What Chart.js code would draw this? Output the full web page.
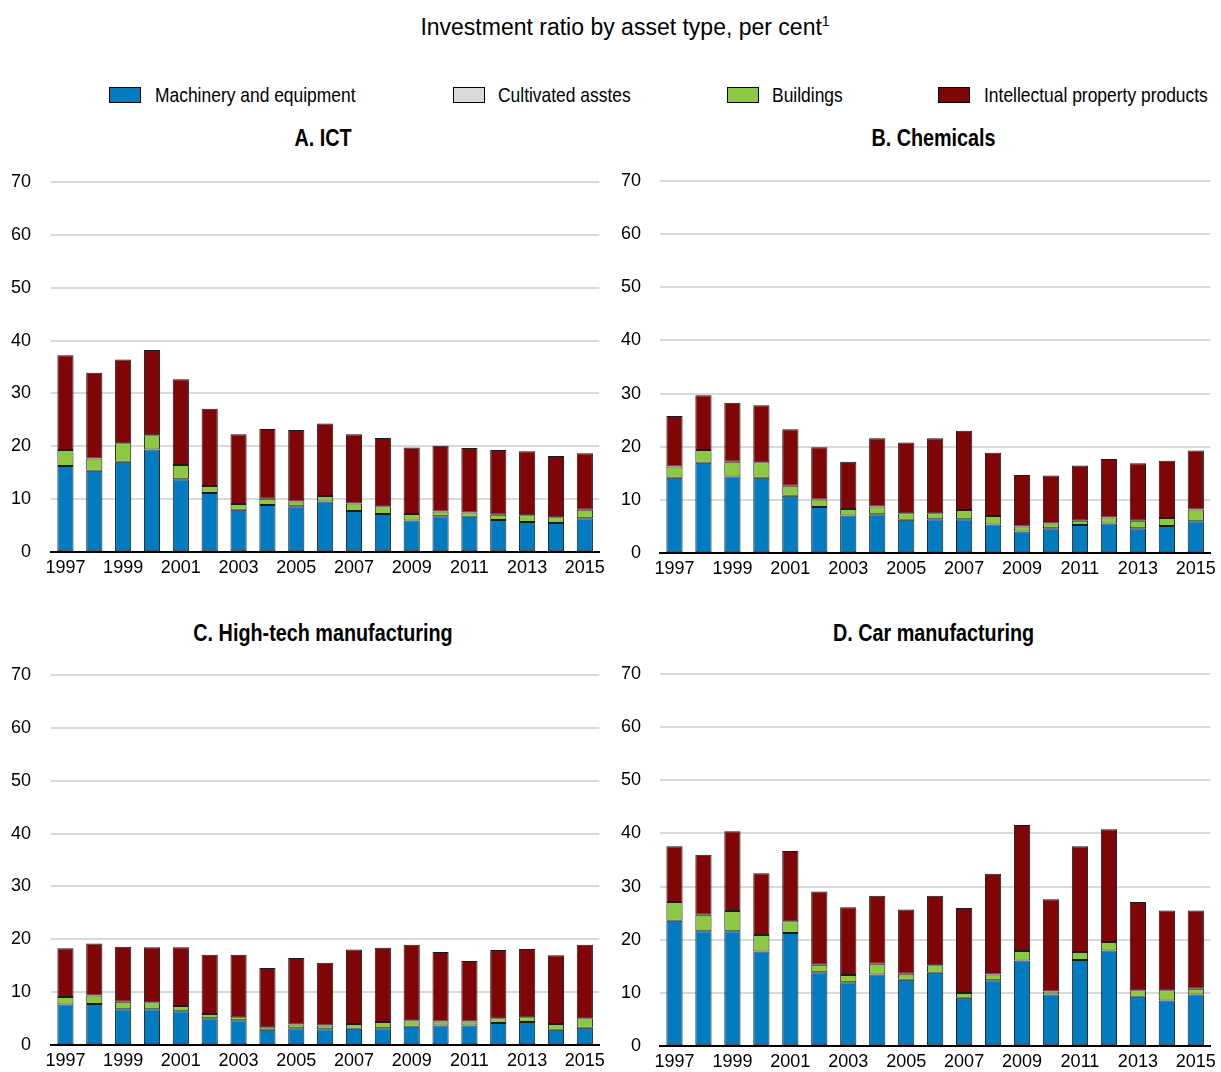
<!DOCTYPE html>
<html>
<head>
<meta charset="utf-8">
<script src="https://cdn.jsdelivr.net/npm/chart.js@4.4.0/dist/chart.umd.min.js"></script>
<style>
    body { margin: 0; background: #fff; width: 1221px; height: 1072px; position: relative; overflow: hidden; }
    .txt { position: absolute; color: #000; white-space: nowrap; }
    .title { font-family: "Liberation Sans", Arial, sans-serif; font-size: 23px; left: 0; width: 1250px; text-align: center; top: 13px; }
    .title sup { font-size: 14px; }
    .lg-box { position: absolute; width: 30px; height: 14px; border: 1px solid #000; top: 87px; }
    .lg-txt { font-family: "Liberation Sans", Arial, sans-serif; font-size: 21px; top: 83px; transform: scaleX(0.83); transform-origin: 0 50%; }
    .ptitle { font-family: "Liberation Sans", Arial, sans-serif; font-weight: bold; font-size: 23px; text-align: center; transform: scaleX(0.86); transform-origin: 50% 50%; }
    canvas { position: absolute; }
</style>
</head>
<body>
<div class="txt title">Investment ratio by asset type, per cent<sup>1</sup></div>

<div class="lg-box" style="left:109px;background:#037BC1"></div>
<div class="txt lg-txt" style="left:155px">Machinery and equipment</div>
<div class="lg-box" style="left:453px;background:#D9D9D9"></div>
<div class="txt lg-txt" style="left:498px">Cultivated asstes</div>
<div class="lg-box" style="left:727px;background:#8CC841"></div>
<div class="txt lg-txt" style="left:772px">Buildings</div>
<div class="lg-box" style="left:938px;background:#7F0506"></div>
<div class="txt lg-txt" style="left:984px">Intellectual property products</div>

<div class="txt ptitle" style="left:46px;width:554px;top:125px">A. ICT</div>
<div class="txt ptitle" style="left:656px;width:555px;top:125px">B. Chemicals</div>
<div class="txt ptitle" style="left:46px;width:554px;top:620px">C. High-tech manufacturing</div>
<div class="txt ptitle" style="left:656px;width:555px;top:620px">D. Car manufacturing</div>

<canvas id="cA"></canvas>
<canvas id="cB"></canvas>
<canvas id="cC"></canvas>
<canvas id="cD"></canvas>

<script>
// categories
var years = ['1997','1998','1999','2000','2001','2002','2003','2004','2005','2006',
             '2007','2008','2009','2010','2011','2012','2013','2014','2015'];
var yTicks = [0, 10, 20, 30, 40, 50, 60, 70];
var seriesNames = ['Machinery and equipment', 'Cultivated asstes', 'Buildings', 'Intellectual property products'];

// A. ICT
var ictMachinery = [16.3,15.4,17.1,19.4,13.8,11.2,8.0,8.9,8.7,9.6,7.8,7.2,6.0,6.8,6.7,6.1,5.7,5.5,6.4];
var ictCultivated = [0,0,0,0,0,0,0,0,0,0,0,0,0,0,0,0,0,0,0];
var ictBuildings = [3.0,2.3,3.5,2.7,2.7,1.3,1.1,1.2,0.9,1.0,1.4,1.5,1.2,0.9,0.8,1.0,1.3,1.1,1.6];
var ictIPP = [17.9,16.2,15.8,16.1,16.2,14.6,13.2,13.2,13.5,13.7,13.1,12.9,12.6,12.4,12.2,12.2,12.1,11.6,10.7];

// B. Chemicals
var chemMachinery = [14.2,17.0,14.4,14.2,10.8,8.7,7.1,7.3,6.3,6.4,6.4,5.4,4.1,4.7,5.3,5.6,4.7,5.1,6.0];
var chemCultivated = [0,0,0,0,0,0,0,0,0,0,0,0,0,0,0,0,0,0,0];
var chemBuildings = [2.1,2.4,2.8,2.9,1.9,1.4,1.2,1.5,1.2,1.1,1.7,1.6,0.9,0.9,0.8,1.1,1.4,1.5,2.2];
var chemIPP = [9.5,10.3,11.1,10.7,10.6,9.8,8.9,12.8,13.3,14.1,14.9,11.9,9.7,9.0,10.4,11.0,10.8,10.8,11.1];

// C. High-tech manufacturing
var htMachinery = [7.7,7.8,6.8,6.8,6.4,5.1,4.7,2.9,3.2,3.0,3.1,3.2,3.5,3.7,3.7,4.2,4.4,2.9,3.3];
var htCultivated = [0,0,0,0,0,0,0,0,0,0,0,0,0,0,0,0,0,0,0];
var htBuildings = [1.4,1.6,1.4,1.3,1.0,0.8,0.6,0.5,0.7,0.7,0.9,1.2,1.2,0.8,0.8,0.9,0.9,1.1,1.8];
var htIPP = [9.2,9.8,10.4,10.4,11.1,11.2,11.8,11.2,12.6,11.9,14.1,14.0,14.3,13.1,11.4,12.9,12.9,13.0,13.9];

// D. Car manufacturing
var carMachinery = [23.6,21.6,21.6,17.8,21.3,13.9,12.0,13.5,12.5,13.8,9.1,12.4,16.1,9.7,16.2,18.0,9.3,8.6,9.7];
var carCultivated = [0,0,0,0,0,0,0,0,0,0,0,0,0,0,0,0,0,0,0];
var carBuildings = [3.5,3.1,3.8,3.1,2.2,1.4,1.4,2.0,1.1,1.4,0.9,1.1,1.8,0.6,1.5,1.6,1.2,1.9,1.1];
var carIPP = [10.5,11.3,15.0,11.6,13.2,13.8,12.7,12.8,12.1,13.1,16.0,18.9,23.7,17.3,19.9,21.2,16.6,15.0,14.7];

var colors = ['#037BC1', '#D9D9D9', '#8CC841', '#7F0506'];
var tickFont = { family: '"Liberation Sans", Arial, sans-serif', size: 18 };

function makePanel(id, box, yAxisWidth, seriesList) {
    var canvas = document.getElementById(id);
    canvas.style.left = box.left + 'px';
    canvas.style.top = box.top + 'px';
    canvas.width = box.width;
    canvas.height = box.height;

    var datasets = seriesList.map(function(values, i) {
        return {
            label: seriesNames[i],
            data: values,
            backgroundColor: colors[i],
            borderColor: '#1a1a1a',
            borderWidth: 1,
            borderSkipped: false,
            stack: 's',
            categoryPercentage: 1,
            barPercentage: 0.56
        };
    });

    return new Chart(canvas, {
        type: 'bar',
        data: { labels: years, datasets: datasets },
        options: {
            responsive: false,
            animation: false,
            layout: { padding: { top: 11, right: box.padRight, left: 0, bottom: 0 } },
            plugins: { legend: { display: false }, tooltip: { enabled: false } },
            scales: {
                x: {
                    stacked: true,
                    grid: { display: false, drawTicks: false },
                    border: { display: true, color: '#000', width: 2 },
                    ticks: {
                        font: tickFont,
                        color: '#000',
                        autoSkip: false,
                        maxRotation: 0,
                        padding: 5,
                        callback: function(val, idx) {
                            return idx % 2 === 0 ? years[idx] : '';
                        }
                    },
                    afterFit: function(scale) { scale.height = 27; }
                },
                y: {
                    stacked: true,
                    min: 0,
                    max: 70,
                    afterBuildTicks: function(scale) {
                        scale.ticks = yTicks.map(function(v) { return { value: v }; });
                    },
                    grid: {
                        drawTicks: false,
                        lineWidth: 2,
                        color: function(ctx) { return ctx.tick && ctx.tick.value === 0 ? 'rgba(0,0,0,0)' : '#D9D9D9'; }
                    },
                    border: { display: false },
                    ticks: { font: tickFont, color: '#000', padding: yAxisWidth - 31 },
                    afterFit: function(scale) { scale.width = yAxisWidth; }
                }
            }
        }
    });
}

makePanel('cA', { left: 0, top: 151, width: 610, height: 432, padRight: 5 }, 51,
    [ictMachinery, ictCultivated, ictBuildings, ictIPP]);
makePanel('cB', { left: 610, top: 151, width: 611, height: 432, padRight: 6 }, 50,
    [chemMachinery, chemCultivated, chemBuildings, chemIPP]);
makePanel('cC', { left: 0, top: 644, width: 610, height: 432, padRight: 5 }, 51,
    [htMachinery, htCultivated, htBuildings, htIPP]);
makePanel('cD', { left: 610, top: 644, width: 611, height: 432, padRight: 6 }, 50,
    [carMachinery, carCultivated, carBuildings, carIPP]);
</script>
</body>
</html>
